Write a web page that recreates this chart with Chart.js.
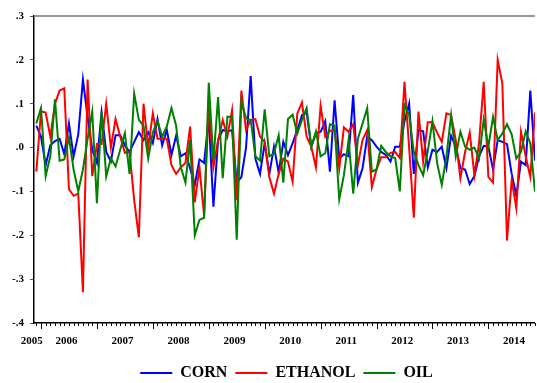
<!DOCTYPE html>
<html>
<head>
<meta charset="utf-8">
<script src="https://cdn.jsdelivr.net/npm/chart.js@4.4.1/dist/chart.umd.min.js"></script>
<style>
  html, body { margin: 0; padding: 0; background: #fff; }
  #wrap { width: 537px; height: 383px; }
</style>
</head>
<body>
<div id="wrap"><canvas id="returnsChart"></canvas></div>
<script>
// monthly returns, Dec 2005 .. Nov 2014
const yearLabels = ["2005", "2006", "2007", "2008", "2009", "2010", "2011", "2012", "2013", "2014"];
const yTicks = [0.3, 0.2, 0.1, 0.0, -0.1, -0.2, -0.3, -0.4];
const yTickLabels = [".3", ".2", ".1", ".0", "-.1", "-.2", "-.3", "-.4"];

const corn = [
  0.05, 0.025, -0.04, 0.005, 0.015, 0.02, -0.015, 0.055, -0.02, 0.03,
  0.155, 0.07, -0.005, -0.035, 0.08, -0.01, -0.032, 0.028, 0.028, 0.005,
  -0.01, 0.013, 0.035, 0.017, 0.035, 0.01, 0.065, 0.005, 0.04, -0.017,
  0.027, -0.02, -0.013, -0.047, -0.085, -0.027, -0.035, 0.067, -0.135, 0.017,
  0.04, 0.037, 0.04, -0.08, -0.067, 0.0, 0.163, -0.025, -0.06, 0.01,
  -0.06, 0.002, -0.057, 0.013, -0.017, 0.01, 0.04, 0.074, 0.08, 0.002,
  0.032, 0.036, 0.06, -0.055, 0.108, -0.025, -0.015, -0.02, 0.12, -0.08,
  -0.047, 0.025, 0.017, 0.002, -0.01, -0.017, -0.032, 0.002, 0.002, 0.06,
  0.1, -0.06, 0.04, 0.037, -0.045, -0.005, -0.01, 0.002, -0.047, 0.027,
  0.002, -0.047, -0.05, -0.083, -0.065, -0.02, 0.004, 0.002, -0.05, 0.017,
  0.013, 0.008, -0.06, -0.11, -0.032, -0.04, 0.13, -0.03
];
const ethanol = [
  -0.055, 0.083, 0.08, 0.025, 0.1, 0.13, 0.135, -0.095, -0.11, -0.105,
  -0.33, 0.155, -0.065, 0.008, 0.008, 0.1, 0.0, 0.065, 0.025, -0.012,
  -0.01, -0.12, -0.205, 0.1, 0.0, 0.078, 0.02, 0.02, 0.02, -0.04,
  -0.06, -0.045, -0.035, 0.048, -0.125, -0.045, -0.155, 0.097, -0.045, 0.017,
  0.063, 0.025, 0.085, -0.12, 0.13, 0.04, 0.063, 0.065, 0.025, 0.013,
  -0.067, -0.105, -0.06, -0.025, -0.032, -0.078, 0.078, 0.103, 0.025, 0.002,
  -0.045, 0.095, 0.025, 0.038, 0.04, -0.047, 0.046, 0.036, 0.053, -0.04,
  0.017, 0.04, -0.09, -0.05, -0.022, -0.022, -0.012, -0.01, -0.024, 0.15,
  0.0, -0.16, 0.082, -0.032, 0.058, 0.058, 0.034, 0.013, 0.078, 0.074,
  0.017, -0.07, -0.01, 0.034, -0.063, 0.01, 0.15, -0.067, -0.08, 0.2,
  0.146, -0.212, -0.074, -0.138, 0.036, -0.02, -0.067, 0.08
];
const oil = [
  0.055, 0.09, -0.065, -0.02, 0.11, -0.03, -0.027, 0.023, -0.05, -0.1,
  -0.05, 0.02, 0.082, -0.127, 0.082, -0.066, -0.024, -0.043, -0.005, 0.033,
  -0.06, 0.123, 0.063, 0.05, -0.025, 0.035, 0.06, 0.025, 0.048, 0.09,
  0.05, -0.045, -0.08, 0.017, -0.2, -0.165, -0.16, 0.148, -0.03, 0.115,
  -0.07, 0.07, 0.07, -0.21, 0.105, 0.067, 0.063, -0.02, -0.03, 0.087,
  -0.02, -0.013, 0.028, -0.08, 0.065, 0.075, 0.032, 0.063, 0.09, 0.002,
  0.037, -0.02, -0.013, 0.053, 0.05, -0.118, -0.063, 0.017, -0.105, 0.02,
  0.055, 0.09, -0.055, -0.05, 0.004, -0.01, -0.02, -0.024, -0.1, 0.097,
  0.074, -0.01, -0.04, -0.063, -0.008, 0.06, -0.035, -0.085, -0.02, 0.074,
  -0.02, 0.036, 0.002, -0.005, 0.0, -0.025, 0.064, 0.002, 0.07, 0.017,
  0.032, 0.053, 0.03, -0.025, -0.01, 0.037, 0.01, -0.1
];

const serif = "'Liberation Serif', 'Times New Roman', serif";
const toXY = arr => arr.map((v, i) => ({ x: i, y: v }));

// year label sits in the middle of its months; 2005 has only December
const yearCenters = yearLabels.map((y, k) => k === 0 ? -1 : 6.5 + 12 * (k - 1));

// monthly tick marks under the axis (longer at January) and the top frame
const frameTicks = {
  id: "frameTicks",
  afterLayout(chart) {
    chart.legend.left += 18;
    chart.legend.right += 18;
  },
  afterDraw(chart) {
    const { ctx, chartArea } = chart;
    const xs = chart.scales.x;
    ctx.save();
    ctx.strokeStyle = "#000";
    ctx.lineWidth = 1;
    for (let i = 0; i < corn.length; i++) {
      const px = Math.round(xs.getPixelForValue(i)) + 0.5;
      const len = i % 12 === 1 ? 6 : 3;
      ctx.beginPath();
      ctx.moveTo(px, chartArea.bottom);
      ctx.lineTo(px, chartArea.bottom + len);
      ctx.stroke();
    }
    ctx.strokeStyle = "#777";
    ctx.lineWidth = 1.5;
    ctx.beginPath();
    ctx.moveTo(chartArea.left, chartArea.top);
    ctx.lineTo(chartArea.right, chartArea.top);
    ctx.stroke();
    ctx.restore();
  }
};

new Chart(document.getElementById("returnsChart"), {
  type: "line",
  data: {
    datasets: [
      { label: "CORN", data: toXY(corn), borderColor: "#0000ff", backgroundColor: "#0000ff", order: 3 },
      { label: "ETHANOL", data: toXY(ethanol), borderColor: "#ff0000", backgroundColor: "#ff0000", order: 2 },
      { label: "OIL", data: toXY(oil), borderColor: "#008000", backgroundColor: "#008000", order: 1 }
    ]
  },
  options: {
    responsive: true,
    maintainAspectRatio: false,
    animation: false,
    layout: { padding: { left: 0, right: 0, top: 16, bottom: -8 } },
    elements: {
      line: { borderWidth: 2, tension: 0 },
      point: { radius: 0, borderWidth: 2 }
    },
    plugins: {
      legend: {
        position: "bottom",
        labels: {
          usePointStyle: true,
          pointStyle: "line",
          pointStyleWidth: 32,
          padding: 8,
          color: "#000",
          font: { family: serif, size: 16, weight: "bold" },
          sort: (a, b) => a.datasetIndex - b.datasetIndex
        }
      },
      tooltip: { enabled: false }
    },
    scales: {
      x: {
        type: "linear",
        min: -0.5,
        max: corn.length - 1,
        afterBuildTicks: scale => { scale.ticks = yearCenters.map(v => ({ value: v })); },
        afterFit: scale => { scale.height = 34; },
        grid: { display: false, drawTicks: false },
        border: { display: true, color: "#000", width: 1.5 },
        ticks: {
          autoSkip: false,
          maxRotation: 0,
          padding: 12,
          color: "#000",
          font: { family: serif, size: 11, weight: "bold" },
          callback: (v, i) => yearLabels[i]
        }
      },
      y: {
        min: -0.4,
        max: 0.3,
        afterBuildTicks: scale => { scale.ticks = yTicks.slice().reverse().map(v => ({ value: v })); },
        afterFit: scale => { scale.width = 34; },
        grid: { drawOnChartArea: false, tickLength: 4, tickColor: "#555" },
        border: { display: true, color: "#000", width: 1.5 },
        ticks: {
          padding: 6,
          color: "#000",
          font: { family: serif, size: 11, weight: "bold" },
          callback: v => yTickLabels[yTicks.findIndex(t => Math.abs(t - v) < 1e-9)]
        }
      }
    }
  },
  plugins: [frameTicks]
});
</script>
</body>
</html>
